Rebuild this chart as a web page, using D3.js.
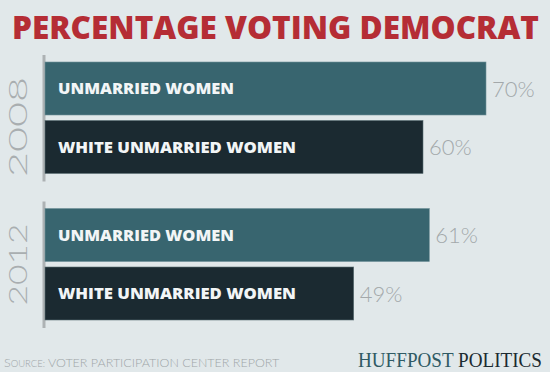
<!DOCTYPE html>
<html>
  <head>
    <title>Percentage voting Democrat</title>
    <meta charset="utf-8">
    <script src='https://d3js.org/d3.v7.min.js'></script>
    <style>
      body { margin: 0; background: #e1e8ea; }
      svg { display: block; }
    </style>
  </head>
  <body>
  <div id="chart"></div>
  <script>
    var width = 550,
        height = 372;

    // data
    var years = ['2008', '2012'];
    var groups = ['UNMARRIED WOMEN', 'WHITE UNMARRIED WOMEN'];
    var values2008 = [70, 60];
    var values2012 = [61, 49];
    var valuesByYear = { '2008': values2008, '2012': values2012 };
    var colors = ['#38656f', '#1b2a31'];

    var svg = d3.select('#chart')
      .append('svg')
      .attr('width', width)
      .attr('height', height);

    svg.append('rect')
      .attr('width', width)
      .attr('height', height)
      .attr('fill', '#e1e8ea');

    // title
    svg.append('text')
      .attr('x', 12)
      .attr('y', 39)
      .attr('textLength', 527)
      .attr('lengthAdjust', 'spacingAndGlyphs')
      .style('font-family', '"Open Sans", sans-serif')
      .style('font-weight', 800)
      .style('font-size', '31px')
      .style('fill', '#b52d35')
      .text('PERCENTAGE VOTING DEMOCRAT');

    var x = d3.scaleLinear().domain([0, 70]).range([45, 486]);

    var yOuter = d3.scaleBand()
      .domain(years)
      .range([62, 320])
      .paddingInner(0.239);

    var yInner = d3.scaleBand()
      .domain(groups)
      .range([0, yOuter.bandwidth()])
      .paddingInner(0.094);

    var g = svg.selectAll('g.year')
      .data(years)
      .enter()
      .append('g')
      .attr('class', 'year')
      .attr('transform', function(d) { return 'translate(0,' + yOuter(d) + ')'; });

    // vertical rule per year
    g.append('line')
      .attr('x1', 44).attr('x2', 44)
      .attr('y1', -7)
      .attr('y2', yOuter.bandwidth() + 8)
      .attr('stroke', '#adb2b4')
      .attr('stroke-width', 3);

    // year label
    g.append('text')
      .attr('transform', 'translate(27,15) rotate(-90)')
      .attr('text-anchor', 'end')
      .attr('textLength', function(d) { return d == '2008' ? 100 : 82; })
      .attr('lengthAdjust', 'spacingAndGlyphs')
      .style('font-family', 'Lato, sans-serif')
      .style('font-weight', 300)
      .style('font-size', '25px')
      .style('fill', '#a9aeb0')
      .text(function(d) { return d; });

    var bars = g.selectAll('g.bar')
      .data(function(d) {
        return groups.map(function(name, i) { return { name: name, value: valuesByYear[d][i], i: i }; });
      })
      .enter()
      .append('g')
      .attr('class', 'bar')
      .attr('transform', function(d) { return 'translate(0,' + yInner(d.name) + ')'; });

    bars.append('rect')
      .attr('x', x(0))
      .attr('y', 0)
      .attr('width', function(d) { return x(d.value) - x(0); })
      .attr('height', yInner.bandwidth())
      .attr('fill', function(d) { return colors[d.i]; })
      .attr('stroke', function(d) { return d.i == 0 ? '#6f9098' : '#5d7076'; })
      .attr('stroke-width', 0.6);

    bars.append('text')
      .attr('x', 58)
      .attr('y', yInner.bandwidth() / 2 + 6)
      .attr('textLength', function(d) { return d.i == 0 ? 176 : 238; })
      .attr('lengthAdjust', 'spacingAndGlyphs')
      .style('font-family', '"Open Sans", sans-serif')
      .style('font-weight', 800)
      .style('font-size', '16px')
      .style('fill', '#f2f5f6')
      .text(function(d) { return d.name; });

    bars.append('text')
      .attr('x', function(d) { return x(d.value) + 6; })
      .attr('y', yInner.bandwidth() / 2 + 8.5)
      .style('font-family', 'Lato, sans-serif')
      .style('font-weight', 300)
      .style('font-size', '22px')
      .style('fill', '#a3a8aa')
      .text(function(d) { return d.value + '%'; });

    // footer
    var src = svg.append('text')
      .attr('x', 4)
      .attr('y', 367)
      .style('font-family', 'Lato, sans-serif')
      .style('font-weight', 300)
      .style('fill', '#9ea5a8')
      .style('font-size', '12.5px');
    src.append('tspan').text('S');
    src.append('tspan').style('font-size', '9.5px').text('OURCE:');
    src.append('tspan').text(' VOTER PARTICIPATION CENTER REPORT');

    var brand = svg.append('text')
      .attr('x', 358)
      .attr('y', 367)
      .attr('textLength', 184)
      .attr('lengthAdjust', 'spacingAndGlyphs')
      .style('font-family', '"Liberation Serif", "DejaVu Serif", serif')
      .style('font-size', '21px');
    brand.append('tspan').style('fill', '#2f5a64').text('HUFFPOST');
    brand.append('tspan').style('fill', '#1b2a30').text(' POLITICS');
  </script>
  </body>
</html>
